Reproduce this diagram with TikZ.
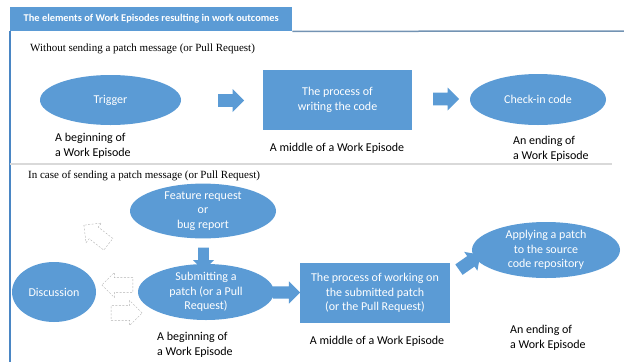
\documentclass[tikz,border=0pt]{standalone}
\usepackage{fontspec}
\setmainfont{Liberation Serif}
\setsansfont{Carlito}
\usepackage{tikz}
\usetikzlibrary{shapes.geometric,shapes.arrows,calc}
\definecolor{office}{HTML}{5B9BD5}
\definecolor{rim}{HTML}{4A86C4}
\definecolor{topline}{HTML}{7393B3}

\begin{document}
\begin{tikzpicture}[x=1pt, y=-1pt,
  oval/.style={ellipse, fill=office, text=white, inner sep=0pt, align=center, font=\sffamily\fontsize{12}{14.5}\selectfont},
  proc/.style={rectangle, fill=office, text=white, inner sep=0pt, align=center, font=\sffamily\fontsize{12}{14.5}\selectfont},
  blk/.style={single arrow, fill=office, inner xsep=0pt, inner ysep=6pt, minimum height=26pt, minimum width=23pt, single arrow head extend=5pt},
  dblk/.style={single arrow, draw=gray!60, dashed, dash pattern=on 2pt off 1.5pt, thin, inner xsep=0pt, inner ysep=7pt, minimum height=31pt, minimum width=25pt, single arrow head extend=5pt},
  lab/.style={font=\sffamily\fontsize{12}{15}\selectfont, align=left, inner sep=0pt},
  head/.style={font=\fontsize{11}{13}\selectfont, inner sep=0pt, anchor=west}]
  \useasboundingbox (0,0) rectangle (624,362);
  % frame with title tab
  \node[rectangle, fill=office, text=white, anchor=north west, minimum width=282pt, minimum height=24pt, inner sep=0pt,
        font=\sffamily\bfseries\fontsize{10.4}{12}\selectfont] (title) at (10,7) {The elements of Work Episodes resulting in work outcomes};
  \draw[topline, line width=1.5pt] (title.south east) -- (624,31);
  \draw[rim, line width=2pt] (title.south west) -- (10,362);
  \draw[gray!30, line width=1.5pt] (10,164) -- (612,164);
  % without a patch message
  \node[head] (nopatch) at (30,49) {Without sending a patch message (or Pull Request)};
  \node[oval, minimum width=141pt, minimum height=50pt] (trigger) at (110.5,100) {Trigger};
  \node[blk] (r1) at (228,100.5) {};
  \node[proc, minimum width=149pt, minimum height=60pt] (writing) at (337.5,100) {The process of\\writing the code};
  \node[blk] (r2) at (443,99) {};
  \node[oval, minimum width=136pt, minimum height=51pt] (checkin) at (538,99.5) {Check-in code};
  \node[lab, anchor=west] (beg1) at (55,146) {A beginning of\\a Work Episode};
  \node[lab] (mid1) at (337,148) {A middle of a Work Episode};
  \node[lab, anchor=west] (end1) at (513,149) {An ending of\\a Work Episode};
  % with a patch message
  \node[head] (patch) at (28,176) {In case of sending a patch message (or Pull Request)};
  \node[oval, minimum width=146pt, minimum height=50pt] (feature) at (203,211) {Feature request\\or\\bug report};
  \node[dblk, rotate=142] (d1) at (99,237) {};
  \node[blk, rotate=-90, minimum height=23pt, minimum width=21pt, inner ysep=5pt] (down) at (203.5,256.5) {};
  \node[oval, minimum width=84pt, minimum height=60pt] (discussion) at (54,292) {Discussion};
  \node[dblk, rotate=180] (d2) at (121,285) {};
  \node[dblk] (d3) at (123,313) {};
  \node[oval, minimum width=136pt, minimum height=56pt] (submit) at (206,292) {Submitting a\\patch (or a Pull\\Request)};
  \node[blk, minimum height=27pt, minimum width=21pt] (r3) at (283.5,292.5) {};
  \node[proc, minimum width=150pt, minimum height=60pt] (working) at (375,293) {The process of working on\\the submitted patch\\(or the Pull Request)};
  \node[blk, rotate=35] (r4) at (467,264) {};
  \node[oval, minimum width=148pt, minimum height=56pt] (applying) at (546,250) {Applying a patch\\to the source\\code repository};
  \node[lab, anchor=west] (beg2) at (157,345) {A beginning of\\a Work Episode};
  \node[lab] (mid2) at (377,341) {A middle of a Work Episode};
  \node[lab, anchor=west] (end2) at (510,338) {An ending of\\a Work Episode};
\end{tikzpicture}
\end{document}
